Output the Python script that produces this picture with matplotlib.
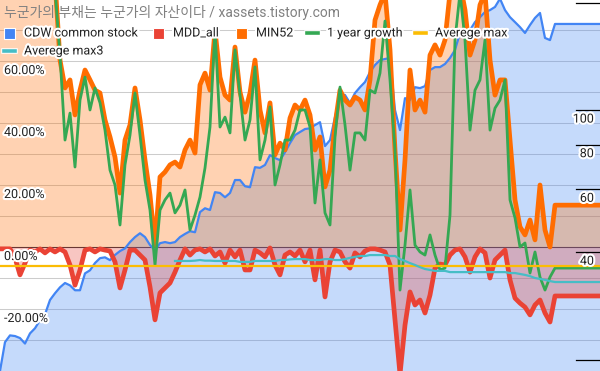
import numpy as np
import matplotlib
matplotlib.use("Agg")
import matplotlib.pyplot as plt
import matplotlib.patheffects as pe
from matplotlib.lines import Line2D
from matplotlib.patches import Rectangle
from matplotlib.transforms import blended_transform_factory, offset_copy

plt.rcParams['font.family'] = ['Roboto', 'Noto Sans CJK KR', 'DejaVu Sans']

title = "누군가의 부채는 누군가의 자산이다 / xassets.tistory.com"

# CDW price (right axis, log scale)
cdw = [18.6, 22.4, 23.4, 23.3, 23.0, 22.2, 23.7, 24.5, 25.8, 26.8,
       29.4, 30.7, 31.9, 32.8, 32.3, 31.3, 31.3, 34.9, 35.6, 37.3,
       38.5, 38.7, 38.0, 39.3, 40.3, 41.0, 42.7, 44.1, 45.2, 44.1,
       41.9, 40.5, 42.4, 42.7, 42.4, 42.7, 44.1, 45.0, 45.8, 45.5,
       51.8, 53.1, 52.5, 58.9, 58.6, 57.0, 58.6, 63.7, 63.7, 61.2,
       60.8, 69.2, 68.9, 70.2, 74.8, 73.4, 72.4, 76.2, 80.8, 85.1,
       86.8, 88.5, 88.9, 90.8, 92.5, 79.3, 82.4, 95.6, 110.2, 110.2,
       104.6, 111.6, 115.9, 119.8, 127.8, 133.7, 138.0, 139.0, 139.9, 100.0,
       87.9, 108.0, 106.7, 115.9, 115.2, 116.7, 129.4, 131.9, 131.9, 134.6,
       139.9, 147.3, 164.4, 160.0, 167.5, 176.3, 182.0, 188.2, 190.5, 194.4,
       205.0, 190.5, 182.0, 176.3, 170.7, 164.4, 173.0, 181.1, 187.0, 159.2,
       157.0, 174.2, 174.2, 174.2, 174.2, 174.2, 174.2, 174.2, 174.2, 174.2, 174.2]

# percent series (left axis)
mdd_all = [-0.6, -0.6, -0.6, -3.5, -9.0, -5.2, -1.0, -1.6, -0.6, -1.9,
           -0.6, -1.6, -0.6, -1.6, -5.8, -12.3, -7.4, -1.0, -0.6, -1.6,
           -0.6, -1.0, -1.3, -4.8, -13.2, -7.4, -1.0, -1.0, -2.6, -4.2,
           -12.9, -23.5, -14.8, -13.2, -11.6, -8.1, -4.2, -0.6, -2.6, -1.0,
           -0.6, -1.6, -0.6, -2.9, -1.6, -5.2, -1.0, -3.2, -1.0, -7.4,
           -7.4, -1.0, -1.9, -3.2, -0.3, -5.8, -9.0, -2.6, -1.6, -2.9,
           -1.0, -4.8, -1.0, -10.6, -1.0, -16.1, -4.8, -1.0, -1.6, -4.8,
           -6.8, -1.9, -3.2, -1.3, -0.6, -0.6, -1.0, -1.6, -5.8, -23.5,
           -41.0, -25.2, -14.5, -18.7, -17.1, -21.3, -15.5, -6.8, -5.5, -5.8,
           -2.6, -1.0, -0.6, -3.2, -8.1, -3.2, -0.6, -1.9, -10.0, -4.2,
           -2.6, -1.0, -10.6, -16.5, -18.1, -19.4, -21.9, -18.7, -17.1, -21.3,
           -24.2, -15.8, -15.8, -15.8, -15.8, -15.8, -15.8, -15.8, -15.8, -15.8, -15.8]

min52 = [88, 90, 92, 91, 93, 92, 90, 91, 94, 92,
         89, 86, 60.3, 51.3, 53.9, 42.6, 50.6, 57.1, 53.9, 50.6,
         49.7, 41.0, 35.5, 29.0, 17.4, 34.5, 39.4, 51.3, 41.0, 28.1,
         16.8, 0.5, 22.6, 24.2, 26.5, 27.4, 25.8, 31.3, 34.5, 30.3,
         52.3, 56.1, 50.6, 70.0, 54.8, 49.0, 47.4, 64.5, 50.0, 43.5,
         49.7, 60.3, 44.2, 36.8, 46.5, 29.7, 33.5, 31.3, 41.6, 45.8,
         44.2, 47.4, 42.6, 31.3, 35.5, 19.4, 24.8, 39.4, 50.6, 47.4,
         45.8, 48.4, 47.4, 44.2, 53.9, 73.2, 78.1, 82.0, 63.6, 31.3,
         5.5, 28.1, 57.1, 44.2, 47.4, 43.5, 61.9, 65.2, 61.9, 66.8,
         82.0, 85.0, 85.0, 76.5, 61.9, 66.8, 78.1, 82.0, 60.3, 49.0,
         53.9, 53.9, 34.5, 15.2, 6.5, 3.9, 8.7, 2.3, 20.0, 5.5,
         0.0, 13.5, 13.5, 13.5, 13.5, 13.5, 13.5, 13.5, 13.5, 13.5, 13.5]

growth_1y = [85, 87, 89, 88, 90, 89, 87, 88, 91, 89,
             86, 83, 61.9, 34.5, 43.2, 25.8, 47.4, 54.8, 44.2, 51.3,
             46.5, 37.7, 24.8, 20.0, 7.1, 26.5, 36.1, 49.7, 36.1, 21.6,
             11.9, -5.8, 11.9, 15.2, 17.4, 11.0, 13.5, 18.4, 5.5, 10.3,
             16.1, 25.5, 38.7, 70.0, 38.7, 41.9, 36.8, 63.6, 49.0, 34.5,
             41.0, 58.1, 28.1, 34.5, 45.2, 20.0, 26.5, 34.5, 34.5, 37.7,
             44.2, 44.2, 38.7, 14.2, 28.1, 11.0, 7.1, 35.5, 51.6, 39.4,
             24.8, 36.8, 36.8, 34.5, 50.6, 49.7, 56.1, 72.9, 53.9, 31.3,
             -13.9, 0.6, 18.4, 0.6, -1.6, -2.6, 3.9, -2.6, -7.4, -6.8,
             10.3, 66.8, 82.0, 66.8, 37.7, 50.6, 53.9, 66.8, 37.7, 44.8,
             47.4, 53.9, 15.2, 9.4, 0.0, 1.3, -8.4, -1.6, -9.7, -13.9,
             -9.7, -6.8, -6.8, -6.8, -6.8, -6.8, -6.8, -6.8, -6.8, -6.8, -6.8]

avg_max = -6.1

avg_max3 = [np.nan] * 35 + [
    -4.5, -4.5, -4.5, -4.5, -4.4,
    -4.2, -4.4, -4.4, -4.5, -4.5, -4.5, -4.5, -4.5, -4.8, -4.8,
    -4.8, -4.5, -4.5, -4.5, -4.5, -4.5, -4.2, -4.2, -4.0, -3.9,
    -3.9, -3.9, -4.2, -4.2, -4.2, -3.9, -3.9, -4.2, -4.2, -3.9,
    -3.5, -3.2, -2.9, -2.9, -2.6, -2.6, -2.6, -2.6, -2.9, -2.9,
    -3.9, -4.5, -5.2, -5.8, -6.5, -7.1, -7.4, -7.7, -7.7, -7.7,
    -8.1, -8.1, -8.1, -8.1, -8.1, -8.1, -8.1, -8.1, -8.1, -8.1,
    -8.1, -8.1, -8.4, -8.4, -8.7, -9.0, -9.4, -10.0, -10.3, -10.6,
    -11.0, -11.3, -11.3, -11.3, -11.3, -11.3, -11.3, -11.3, -11.3, -11.3, -11.3]

pct_labels = [60, 40, 20, 0, -20]
pct_grid = [-30, -20, -10, 10, 20, 30, 40, 50, 60, 70]
price_ticks = [200, 100, 80, 60, 40, 20]
price_labels = ['', '100', '80', '60', '40', '']

c_blue, c_red, c_orange = '#4285f4', '#ea4335', '#ff6d01'
c_green, c_yellow, c_teal = '#34a853', '#fbbc04', '#46bdc6'

W, H = 600, 371
period = np.arange(len(cdw))
halo = [pe.withStroke(linewidth=3, foreground='white')]

fig = plt.figure(figsize=(W / 100, H / 100), dpi=100)
ax = fig.add_axes([0, 0, 1, 1])
ax2 = ax.twinx()
ax2.set_yscale('log')
ax.set_xlim(0, len(cdw) - 1)
ax.set_ylim(-40, 79.68)
ax2.set_ylim(18.6, 203.3)
ax.set_axis_off()
ax2.set_axis_off()

# gridlines and baseline under the fills
for g in pct_grid:
    ax.axhline(g, color='#cccccc', lw=0.75, zorder=0.5)
ax.axhline(0, color='#333333', lw=0.8, zorder=0.6)

# areas
ax.fill_between(period, cdw, 1, color=c_blue, alpha=0.3, lw=0,
                transform=ax2.transData, zorder=1)
ax.fill_between(period, mdd_all, 0, color=c_red, alpha=0.3, lw=0, zorder=1.1)
ax.fill_between(period, min52, 0, color=c_orange, alpha=0.3, lw=0, zorder=1.2)

# lines
ax.plot(period, cdw, color=c_blue, lw=1.6, transform=ax2.transData, zorder=2)
ax.plot(period, mdd_all, color=c_red, lw=3.4, solid_joinstyle='round', zorder=2.1)
ax.plot(period, min52, color=c_orange, lw=3.4, solid_joinstyle='round', zorder=2.2)
ax.plot(period, growth_1y, color=c_green, lw=2.0, solid_joinstyle='round', zorder=2.3)
ax.plot(period, np.full(len(period), avg_max), color=c_yellow, lw=1.6, zorder=2.4)
ax.plot(period, avg_max3, color=c_teal, lw=1.6, zorder=2.5)

# left axis labels (inside)
tl = offset_copy(blended_transform_factory(ax.transAxes, ax.transData), fig=fig, y=-9.5, units='dots')
for v in pct_labels:
    ax.text(4 / W, v, f"{v:.2f}%", transform=tl, ha='left', va='center',
            fontsize=9, color='#222222', path_effects=halo, zorder=5)

# right axis ticks (inside)
tr = blended_transform_factory(ax2.transAxes, ax2.transData)
trl = offset_copy(tr, fig=fig, y=-9, units='dots')
for v, lab in zip(price_ticks, price_labels):
    ax2.plot([576 / W, 1], [v, v], color='black', lw=0.9, transform=tr, zorder=5)
    if lab:
        ax2.text(594 / W, v, lab, transform=trl, ha='right', va='center',
                 fontsize=9, color='#222222', path_effects=halo, zorder=6)

# title
fig.text(4 / W, 1 - 12 / H, title, ha='left', va='center', fontsize=10,
         color='#808080')

# legend
legend = [("CDW common stock", c_blue, 'box', 4, 33),
          ("MDD_all", c_red, 'box', 153, 33),
          ("MIN52", c_orange, 'box', 236, 33),
          ("1 year growth", c_green, 'line', 307, 33),
          ("Averege max", c_yellow, 'line', 415, 33),
          ("Averege max3", c_teal, 'line', 4, 51)]
for name, col, kind, px, py in legend:
    if kind == 'box':
        fig.add_artist(Rectangle((px / W, 1 - (py + 5.5) / H), 11 / W, 11 / H,
                                 transform=fig.transFigure, facecolor=col,
                                 edgecolor='white', lw=0.8))
    else:
        fig.add_artist(Line2D([px / W, (px + 11) / W], [1 - py / H, 1 - py / H],
                              transform=fig.transFigure, color=col, lw=2.6,
                              path_effects=[pe.withStroke(linewidth=4, foreground='white')]))
    fig.text((px + 20) / W, 1 - py / H, name, ha='left', va='center',
             fontsize=9, color='#222222', path_effects=halo)

fig.savefig('out.png', dpi=100)
